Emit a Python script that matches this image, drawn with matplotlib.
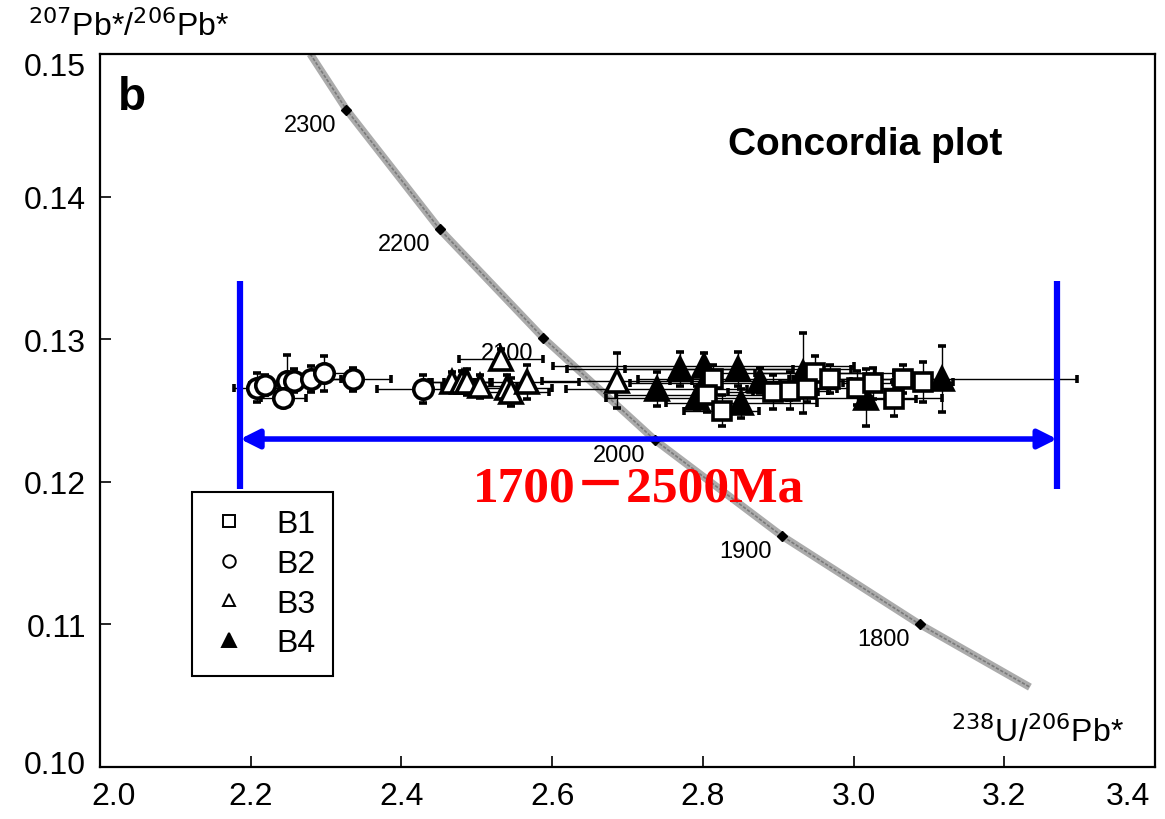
import numpy as np
import matplotlib
matplotlib.use("Agg")
import matplotlib.pyplot as plt
import matplotlib.transforms as mtrans
from matplotlib.lines import Line2D

plt.rcParams['font.family'] = ['Liberation Sans', 'DejaVu Sans']

# concordia curve (238U/206Pb*, 207Pb*/206Pb*)
curve_x = [2.279, 2.327, 2.451, 2.588, 2.737, 2.905, 3.088, 3.234]
curve_y = [0.1500, 0.1461, 0.1377, 0.1301, 0.1229, 0.1162, 0.1100, 0.1056]

# age ticks on the curve (Ma)
ages = [2300, 2200, 2100, 2000, 1900, 1800]
age_x = [2.327, 2.451, 2.588, 2.737, 2.905, 3.088]
age_y = [0.1461, 0.1377, 0.1301, 0.1229, 0.1162, 0.1100]

# B1 - open squares
b1_x = [2.814, 2.805, 2.825, 2.893, 2.916, 2.949, 2.938, 2.969, 3.004, 3.026, 3.053, 3.066, 3.092]
b1_y = [0.1272, 0.1261, 0.1250, 0.1263, 0.1264, 0.1276, 0.1265, 0.1272, 0.1266, 0.1269, 0.1258, 0.1272, 0.1270]
b1_xerr = [0.10, 0.12, 0.05, 0.06, 0.05, 0.08, 0.04, 0.05, 0.06, 0.04, 0.03, 0.05, 0.04]
b1_yerr = [0.0010, 0.0012, 0.0011, 0.0012, 0.0013, 0.0012, 0.0009, 0.0010, 0.0012, 0.0011, 0.0012, 0.0010, 0.0014]

# B2 - open circles
b2_x = [2.208, 2.219, 2.248, 2.243, 2.257, 2.280, 2.297, 2.336, 2.428]
b2_y = [0.1266, 0.1268, 0.1271, 0.1259, 0.1271, 0.1272, 0.1276, 0.1272, 0.1265]
b2_xerr = [0.03, 0.02, 0.03, 0.03, 0.03, 0.04, 0.04, 0.05, 0.06]
b2_yerr = [0.0010, 0.0007, 0.0018, 0.0006, 0.0008, 0.0009, 0.0012, 0.0008, 0.0010]

# B3 - open triangles
b3_x = [2.467, 2.480, 2.487, 2.504, 2.532, 2.540, 2.546, 2.566, 2.686]
b3_y = [0.1270, 0.1270, 0.1270, 0.1267, 0.1286, 0.1266, 0.1263, 0.1270, 0.1271]
b3_xerr = [0.03, 0.04, 0.03, 0.05, 0.056, 0.06, 0.05, 0.07, 0.10]
b3_yerr = [0.0007, 0.0008, 0.0009, 0.0008, 0.0007, 0.0009, 0.0010, 0.0012, 0.0019]

# B4 - filled triangles
b4_x = [2.739, 2.770, 2.801, 2.792, 2.803, 2.847, 2.851, 2.876, 2.933, 3.017, 3.117]
b4_y = [0.1265, 0.1279, 0.1281, 0.1259, 0.1269, 0.1279, 0.1255, 0.1271, 0.1276, 0.1259, 0.1272]
b4_xerr = [0.12, 0.15, 0.20, 0.12, 0.10, 0.15, 0.10, 0.12, 0.12, 0.10, 0.18]
b4_yerr = [0.0012, 0.0012, 0.0009, 0.0008, 0.0010, 0.0012, 0.0010, 0.0009, 0.0028, 0.0020, 0.0023]

# highlighted age window
range_x = (2.186, 3.270)
range_y = (0.1195, 0.1341)
arrow_y = 0.1230

fig = plt.figure(figsize=(11.65, 8.2), dpi=100)
ax = fig.add_axes([100 / 1165, 1 - 768 / 820, 1055 / 1165, 713 / 820])
ax.set_xlim(2.0, 3.4)
ax.set_ylim(0.10, 0.15)

ax.plot(curve_x, curve_y, color='#ababab', lw=5.5, solid_capstyle='butt', zorder=2)
ax.plot(curve_x, curve_y, color='#7a7a7a', lw=1.2, ls=(0, (2, 1)), zorder=2)
ax.plot(age_x, age_y, 'D', color='black', ms=5, zorder=3)
for a, x, y in zip(ages, age_x, age_y):
    ax.annotate(str(a), (x, y), xytext=(-36, -15), textcoords='offset pixels',
                ha='center', va='center', fontsize=17, zorder=4)

eb = dict(ecolor='black', elinewidth=1.0, capsize=3, capthick=1.0, ls='none',
          mec='black', mew=2.6, zorder=5)
ax.errorbar(b2_x, b2_y, xerr=b2_xerr, yerr=b2_yerr, fmt='o', ms=14, mfc='white', **eb)
ax.errorbar(b3_x, b3_y, xerr=b3_xerr, yerr=b3_yerr, fmt='^', ms=16, mfc='white', **eb)
ax.errorbar(b4_x, b4_y, xerr=b4_xerr, yerr=b4_yerr, fmt='^', ms=16, mfc='black', **eb)
ax.errorbar(b1_x, b1_y, xerr=b1_xerr, yerr=b1_yerr, fmt='s', ms=13, mfc='white', **eb)

# blue bracket with double arrow
for xv in range_x:
    ax.plot([xv, xv], range_y, color='#0000ff', lw=4.5, solid_capstyle='butt', zorder=6)
ax.annotate('', xy=(range_x[1], arrow_y), xytext=(range_x[0], arrow_y),
            arrowprops=dict(arrowstyle='<|-|>', color='#0000ff', lw=4,
                            mutation_scale=28, shrinkA=0, shrinkB=0), zorder=6)
ax.text(2.714, 0.1195, '1700－2500Ma', color='#ff0000', fontsize=37, fontweight='bold',
        family=['Liberation Serif', 'Noto Sans CJK SC'], ha='center', va='center', zorder=7)

handles = [
    Line2D([], [], ls='none', marker='s', ms=9, mfc='white', mec='black', mew=1.4),
    Line2D([], [], ls='none', marker='o', ms=9, mfc='white', mec='black', mew=1.4),
    Line2D([], [], ls='none', marker='^', ms=9, mfc='white', mec='black', mew=1.4),
    Line2D([], [], ls='none', marker='^', ms=10, mfc='black', mec='black', mew=1.4),
]
leg = ax.legend(handles, ['B1', 'B2', 'B3', 'B4'], loc='lower left',
                bbox_to_anchor=(0.087, 0.128), fontsize=23, frameon=True, fancybox=False,
                edgecolor='black', framealpha=1, handlelength=1.2, handletextpad=0.9,
                labelspacing=0.3, borderpad=0.55, borderaxespad=0)
leg.get_frame().set_linewidth(1.5)
leg.set_zorder(8)

fig.text(118 / 1165, 1 - 110 / 820, 'b', fontsize=33, fontweight='bold',
         va='baseline', ha='left')
fig.text(865 / 1165, 1 - 155 / 820, 'Concordia plot', fontsize=28, fontweight='bold',
         va='baseline', ha='center')
fig.text(28 / 1165, 1 - 36 / 820, r'$^{207}$Pb*/$^{206}$Pb*', fontsize=23, va='baseline')
fig.text(1124 / 1165, 1 - 742 / 820, r'$^{238}$U/$^{206}$Pb*', fontsize=23,
         va='baseline', ha='right')

ax.set_xticks(np.arange(2.0, 3.41, 0.2))
ax.set_yticks(np.arange(0.10, 0.151, 0.01))
ax.xaxis.set_major_formatter(plt.FormatStrFormatter('%.1f'))
ax.yaxis.set_major_formatter(plt.FormatStrFormatter('%.2f'))
ax.tick_params(direction='in', length=8, width=1.2, labelsize=23)
ax.tick_params(axis='x', pad=10)
ax.tick_params(axis='y', pad=10)
for s in ax.spines.values():
    s.set_linewidth(1.6)

# end labels sit inside the axis limits in the original figure
fig.canvas.draw()
xl = ax.get_xticklabels()
yl = ax.get_yticklabels()
shift = lambda dx, dy: mtrans.ScaledTranslation(dx / 100, dy / 100, fig.dpi_scale_trans)
xl[0].set_transform(xl[0].get_transform() + shift(14, 0))
xl[-1].set_transform(xl[-1].get_transform() + shift(-27, 0))
yl[0].set_transform(yl[0].get_transform() + shift(0, 5))
yl[-1].set_transform(yl[-1].get_transform() + shift(0, -9))

fig.savefig('out.png', dpi=100)
